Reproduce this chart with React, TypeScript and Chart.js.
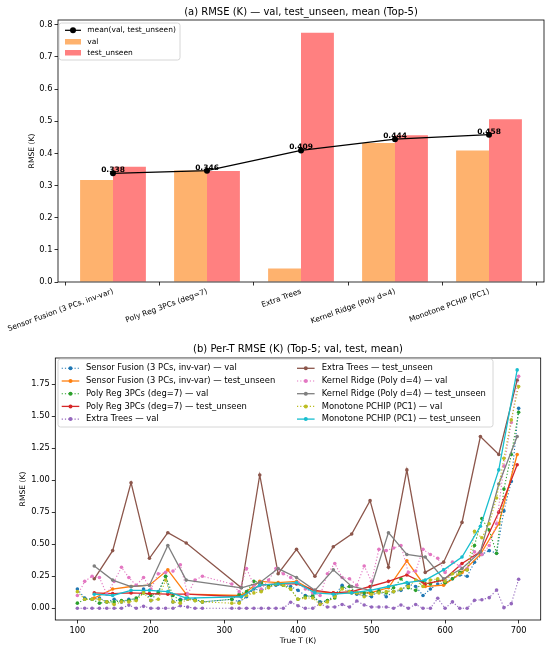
import React, { useEffect, useRef } from "react";
import { Chart, registerables } from "chart.js";

Chart.register(...registerables);

const FONT = "'DejaVu Sans', 'Liberation Sans', sans-serif";

// ---------- (a) top chart data ----------
const models = [
  "Sensor Fusion (3 PCs, inv-var)",
  "Poly Reg 3PCs (deg=7)",
  "Extra Trees",
  "Kernel Ridge (Poly d=4)",
  "Monotone PCHIP (PC1)",
];
const valRmse = [0.317, 0.347, 0.042, 0.432, 0.409];
const testRmse = [0.358, 0.345, 0.775, 0.456, 0.506];
const meanRmse = [0.338, 0.346, 0.409, 0.444, 0.458];
const topYTicks = [0, 0.1, 0.2, 0.3, 0.4, 0.5, 0.6, 0.7, 0.8];

// ---------- (b) bottom chart data ----------
const valT = [
  100, 110, 120, 130, 140, 150, 160, 170, 180, 190, 200, 210, 220, 230, 240, 250, 260, 270,
  310, 320, 330, 340, 350, 360, 370, 380, 390, 400, 410, 420, 430, 440, 450, 460, 470, 480,
  490, 500, 510, 520, 530, 540, 550, 560, 570, 580, 590, 600, 610, 620, 630, 640, 650, 660,
  670, 680, 690, 700,
];
const testT = [
  123, 148, 173, 198, 223, 248, 323, 348, 373, 398, 423, 448, 473, 498, 523, 548, 573, 598,
  623, 648, 673, 698,
];

const sfVal = [
  0.15, 0.08, 0.07, 0.08, 0.05, 0.07, 0.05, 0.07, 0.07, 0.15, 0.06, 0.13, 0.25, 0.05, 0.07, 0.07, 0.07, 0.05,
  0.07, 0.05, 0.09, 0.15, 0.14, 0.17, 0.18, 0.18, 0.17, 0.14, 0.10, 0.09, 0.05, 0.06, 0.10, 0.18, 0.13, 0.11,
  0.10, 0.09, 0.14, 0.09, 0.13, 0.14, 0.19, 0.17, 0.10, 0.15, 0.19, 0.20, 0.23, 0.26, 0.25, 0.36, 0.42, 0.45,
  0.43, 0.76, 0.99, 1.56,
];
const sfTest = [
  0.08, 0.15, 0.17, 0.18, 0.30, 0.11, 0.10, 0.21, 0.20, 0.21, 0.13, 0.12, 0.12, 0.12, 0.16, 0.37, 0.17, 0.18,
  0.28, 0.42, 0.66, 1.20,
];
const prVal = [
  0.04, 0.07, 0.07, 0.04, 0.05, 0.05, 0.06, 0.06, 0.08, 0.12, 0.10, 0.12, 0.25, 0.10, 0.06, 0.08, 0.06, 0.05,
  0.07, 0.11, 0.13, 0.21, 0.20, 0.17, 0.19, 0.18, 0.15, 0.07, 0.09, 0.10, 0.04, 0.06, 0.08, 0.16, 0.17, 0.12,
  0.12, 0.12, 0.13, 0.12, 0.16, 0.23, 0.16, 0.14, 0.21, 0.19, 0.22, 0.20, 0.23, 0.28, 0.30, 0.49, 0.70, 0.61,
  0.43, 0.93, 1.20, 1.53,
];
const prTest = [
  0.12, 0.115, 0.12, 0.115, 0.11, 0.11, 0.09, 0.18, 0.19, 0.19, 0.14, 0.12, 0.13, 0.17, 0.21, 0.26, 0.19, 0.22,
  0.35, 0.44, 0.75, 1.12,
];
const etVal = [
  0, 0, 0, 0, 0, 0, 0, 0.025, 0, 0.015, 0, 0, 0, 0, 0.02, 0.01, 0, 0,
  0, 0, 0, 0, 0, 0, 0, 0, 0.047, 0.02, 0, 0, 0.036, 0.01, 0.01, 0.03, 0.01, 0.057,
  0.026, 0.01, 0.01, 0.01, 0, 0.026, 0, 0.03, 0, 0, 0.078, 0, 0.05, 0, 0, 0.062, 0.067, 0.083,
  0.143, 0.005, 0.036, 0.227,
];
const etTest = [
  0.23, 0.45, 0.98, 0.39, 0.59, 0.51, 0.16, 1.04, 0.27, 0.46, 0.25, 0.48, 0.58, 0.84, 0.32, 1.08, 0.28, 0.36,
  0.67, 1.34, 1.20, 1.78,
];
const krVal = [
  0.10, 0.21, 0.25, 0.24, 0.11, 0.21, 0.32, 0.24, 0.18, 0.24, 0.15, 0.27, 0.28, 0.29, 0.34, 0.11, 0.22, 0.25,
  0.19, 0.13, 0.31, 0.18, 0.15, 0.22, 0.31, 0.27, 0.24, 0.20, 0.15, 0.12, 0.10, 0.27, 0.35, 0.24, 0.23, 0.18,
  0.33, 0.21, 0.46, 0.45, 0.47, 0.49, 0.28, 0.29, 0.46, 0.42, 0.39, 0.28, 0.36, 0.33, 0.31, 0.44, 0.42, 0.49,
  0.66, 1.11, 1.45, 1.81,
];
const krTest = [
  0.33, 0.22, 0.17, 0.18, 0.49, 0.22, 0.16, 0.20, 0.31, 0.24, 0.14, 0.30, 0.17, 0.14, 0.59, 0.42, 0.40, 0.23,
  0.31, 0.44, 0.97, 1.34,
];
const mpVal = [
  0.13, 0.07, 0.07, 0.07, 0.05, 0.03, 0.05, 0.05, 0.06, 0.12, 0.06, 0.07, 0.22, 0.05, 0.04, 0.07, 0.06, 0.05,
  0.04, 0.04, 0.10, 0.12, 0.13, 0.16, 0.19, 0.18, 0.15, 0.07, 0.08, 0.08, 0.03, 0.05, 0.09, 0.15, 0.13, 0.12,
  0.09, 0.11, 0.12, 0.13, 0.13, 0.15, 0.17, 0.22, 0.17, 0.22, 0.23, 0.21, 0.27, 0.27, 0.30, 0.60, 0.55, 0.66,
  0.86, 1.17, 1.47, 1.73,
];
const mpTest = [
  0.11, 0.10, 0.14, 0.14, 0.13, 0.08, 0.09, 0.18, 0.19, 0.20, 0.12, 0.11, 0.12, 0.14, 0.17, 0.20, 0.22, 0.30,
  0.40, 0.64, 1.08, 1.86,
];
const bottomXTicks = [100, 200, 300, 400, 500, 600, 700];
const bottomYTicks = [0, 0.25, 0.5, 0.75, 1.0, 1.25, 1.5, 1.75];

const COLORS = ["#1f77b4", "#ff7f0e", "#2ca02c", "#d62728", "#9467bd", "#8c564b", "#e377c2", "#7f7f7f", "#bcbd22", "#17becf"];

const seriesDefs = [
  { label: `${models[0]} — val`, T: valT, v: sfVal, dotted: true },
  { label: `${models[0]} — test_unseen`, T: testT, v: sfTest, dotted: false },
  { label: `${models[1]} — val`, T: valT, v: prVal, dotted: true },
  { label: `${models[1]} — test_unseen`, T: testT, v: prTest, dotted: false },
  { label: `${models[2]} — val`, T: valT, v: etVal, dotted: true },
  { label: `${models[2]} — test_unseen`, T: testT, v: etTest, dotted: false },
  { label: `${models[3]} — val`, T: valT, v: krVal, dotted: true },
  { label: `${models[3]} — test_unseen`, T: testT, v: krTest, dotted: false },
  { label: `${models[4]} — val`, T: valT, v: mpVal, dotted: true },
  { label: `${models[4]} — test_unseen`, T: testT, v: mpTest, dotted: false },
];

const VAL_COLOR = "#feb26e";
const TEST_COLOR = "#ff8080";
const DOT = [1.2, 2];

function legendBox(ctx: CanvasRenderingContext2D, x: number, y: number, w: number, h: number) {
  ctx.save();
  ctx.beginPath();
  const anyCtx = ctx as any;
  if (anyCtx.roundRect) anyCtx.roundRect(x, y, w, h, 2.5);
  else ctx.rect(x, y, w, h);
  ctx.fillStyle = "rgba(255,255,255,0.8)";
  ctx.fill();
  ctx.strokeStyle = "#cccccc";
  ctx.lineWidth = 0.8;
  ctx.stroke();
  ctx.restore();
}

function lineHandle(
  ctx: CanvasRenderingContext2D,
  x0: number,
  x1: number,
  y: number,
  color: string,
  dotted: boolean,
  lw: number,
  r: number
) {
  ctx.save();
  ctx.strokeStyle = color;
  ctx.lineWidth = lw;
  ctx.setLineDash(dotted ? DOT : []);
  ctx.beginPath();
  ctx.moveTo(x0, y);
  ctx.lineTo(x1, y);
  ctx.stroke();
  ctx.setLineDash([]);
  ctx.fillStyle = color;
  ctx.beginPath();
  ctx.arc((x0 + x1) / 2, y, r, 0, Math.PI * 2);
  ctx.fill();
  ctx.restore();
}

function makeOverlay(title: string, titleY: number, drawExtra: (chart: any) => void) {
  return {
    id: "overlay",
    afterDraw(chart: any) {
      const ctx: CanvasRenderingContext2D = chart.ctx;
      const a = chart.chartArea;
      ctx.save();
      ctx.strokeStyle = "#000";
      ctx.lineWidth = 0.8;
      ctx.strokeRect(a.left, a.top, a.right - a.left, a.bottom - a.top);
      ctx.fillStyle = "#000";
      ctx.font = `10px ${FONT}`;
      ctx.textAlign = "center";
      ctx.textBaseline = "middle";
      ctx.fillText(title, (a.left + a.right) / 2, titleY);
      ctx.restore();
      drawExtra(chart);
    },
  };
}

const axisCommon = (size: number, pad: number) => ({
  grid: { display: true, drawOnChartArea: false, drawTicks: true, tickLength: 3.5, color: "#000", lineWidth: 0.8 },
  border: { display: false },
  ticks: { color: "#000", font: { family: FONT, size }, padding: pad, autoSkip: false },
});

export default function App() {
  const topRef = useRef<HTMLCanvasElement | null>(null);
  const botRef = useRef<HTMLCanvasElement | null>(null);

  useEffect(() => {
    Chart.defaults.font.family = FONT;

    const topOverlay = makeOverlay("(a) RMSE (K) — val, test_unseen, mean (Top-5)", 12.3, (chart: any) => {
      const ctx: CanvasRenderingContext2D = chart.ctx;
      const xs = chart.scales.x;
      const ys = chart.scales.y;
      ctx.save();
      ctx.fillStyle = "#000";
      ctx.font = `bold 7.5px ${FONT}`;
      ctx.textAlign = "center";
      ctx.textBaseline = "alphabetic";
      meanRmse.forEach((m, i) => {
        ctx.fillText(m.toFixed(3), xs.getPixelForValue(i), ys.getPixelForValue(m) - 1);
      });
      ctx.restore();
      // legend
      legendBox(ctx, 59, 23, 121, 37);
      lineHandle(ctx, 65, 81, 30.3, "#000", false, 1.25, 3);
      ctx.save();
      ctx.fillStyle = VAL_COLOR;
      ctx.fillRect(65, 39, 16, 5.5);
      ctx.fillStyle = TEST_COLOR;
      ctx.fillRect(65, 50, 16, 5.5);
      ctx.fillStyle = "#000";
      ctx.font = `7.5px ${FONT}`;
      ctx.textAlign = "left";
      ctx.textBaseline = "middle";
      ctx.fillText("mean(val, test_unseen)", 87.3, 30.3);
      ctx.fillText("val", 87.3, 41.7);
      ctx.fillText("test_unseen", 87.3, 52.9);
      ctx.restore();
    });

    const ac1x = axisCommon(7.5, 1.5);
    const ac1y = axisCommon(8.3, 2);
    const topChart = new Chart(topRef.current as HTMLCanvasElement, {
      type: "bar",
      data: {
        datasets: [
          {
            type: "line",
            label: "mean(val, test_unseen)",
            data: meanRmse.map((v, i) => ({ x: i, y: v })),
            borderColor: "#000",
            backgroundColor: "#000",
            borderWidth: 1.25,
            pointRadius: 3,
            pointBorderWidth: 0,
            pointBackgroundColor: "#000",
            order: 0,
          } as any,
          {
            type: "bar",
            label: "val",
            data: valRmse.map((v, i) => ({ x: i, y: v })),
            backgroundColor: VAL_COLOR,
            borderWidth: 0,
            categoryPercentage: 0.7,
            barPercentage: 1.0,
            order: 1,
          } as any,
          {
            type: "bar",
            label: "test_unseen",
            data: testRmse.map((v, i) => ({ x: i, y: v })),
            backgroundColor: TEST_COLOR,
            borderWidth: 0,
            categoryPercentage: 0.7,
            barPercentage: 1.0,
            order: 1,
          } as any,
        ],
      },
      options: {
        responsive: false,
        animation: false,
        layout: { padding: { left: 0, right: 6, top: 20, bottom: 0 } },
        plugins: { legend: { display: false }, tooltip: { enabled: false }, title: { display: false } },
        scales: {
          x: {
            type: "linear",
            min: -0.585,
            max: 4.585,
            offset: false,
            ...ac1x,
            ticks: {
              ...ac1x.ticks,
              maxRotation: 20,
              minRotation: 20,
              callback: (v: any) => models[Math.round(Number(v))] ?? "",
            },
            afterBuildTicks: (s: any) => {
              s.ticks = models.map((_, i) => ({ value: i }));
            },
            afterFit: (s: any) => {
              s.height = 54;
            },
          } as any,
          y: {
            type: "linear",
            min: 0,
            max: 0.8146,
            ...ac1y,
            ticks: { ...ac1y.ticks, callback: (v: any) => Number(v).toFixed(1) },
            afterBuildTicks: (s: any) => {
              s.ticks = topYTicks.map((v) => ({ value: v }));
            },
            afterFit: (s: any) => {
              s.width = 58;
            },
            title: {
              display: true,
              text: "RMSE (K)",
              color: "#000",
              font: { family: FONT, size: 7.6 },
              padding: { top: 27.1, bottom: 0 },
            },
          } as any,
        },
      },
      plugins: [topOverlay as any],
    });

    const botOverlay = makeOverlay("(b) Per-T RMSE (K) (Top-5; val, test, mean)", 13.3, (chart: any) => {
      const ctx: CanvasRenderingContext2D = chart.ctx;
      legendBox(ctx, 58, 23, 435, 68);
      const rows = [32.3, 45.0, 57.7, 70.4, 83.1];
      ctx.save();
      seriesDefs.forEach((s, i) => {
        const col = Math.floor(i / 5);
        const row = i % 5;
        const hx0 = col === 0 ? 61.7 : 297;
        const tx = col === 0 ? 86 : 321.7;
        lineHandle(ctx, hx0, hx0 + 17.6, rows[row], COLORS[i], s.dotted, s.dotted ? 1.1 : 1.3, 2);
        ctx.fillStyle = "#000";
        ctx.font = `8.4px ${FONT}`;
        ctx.textAlign = "left";
        ctx.textBaseline = "middle";
        ctx.fillText(s.label, tx, rows[row]);
      });
      ctx.restore();
    });

    const ac2 = axisCommon(8.3, 2);
    const botChart = new Chart(botRef.current as HTMLCanvasElement, {
      type: "line",
      data: {
        datasets: seriesDefs.map((s, i) => ({
          label: s.label,
          data: s.T.map((t, j) => ({ x: t, y: s.v[j] })),
          borderColor: COLORS[i],
          backgroundColor: COLORS[i],
          borderWidth: s.dotted ? 1.1 : 1.3,
          borderDash: s.dotted ? DOT : [],
          pointRadius: 1.8,
          pointBorderWidth: 0,
          pointBackgroundColor: COLORS[i],
          tension: 0,
          fill: false,
          order: -i,
        })) as any,
      },
      options: {
        responsive: false,
        animation: false,
        layout: { padding: { left: 0, right: 9.3, top: 22, bottom: 0 } },
        plugins: { legend: { display: false }, tooltip: { enabled: false }, title: { display: false } },
        scales: {
          x: {
            type: "linear",
            min: 70,
            max: 730,
            ...ac2,
            ticks: { ...ac2.ticks, maxRotation: 0, callback: (v: any) => String(v) },
            afterBuildTicks: (s: any) => {
              s.ticks = bottomXTicks.map((v) => ({ value: v }));
            },
            afterFit: (s: any) => {
              s.height = 32;
            },
            title: {
              display: true,
              text: "True T (K)",
              color: "#000",
              font: { family: FONT, size: 7.6 },
              padding: { top: 0, bottom: 6.4 },
            },
          } as any,
          y: {
            type: "linear",
            min: -0.0914,
            max: 1.953,
            ...ac2,
            ticks: { ...ac2.ticks, callback: (v: any) => Number(v).toFixed(2) },
            afterBuildTicks: (s: any) => {
              s.ticks = bottomYTicks.map((v) => ({ value: v }));
            },
            afterFit: (s: any) => {
              s.width = 55.3;
            },
            title: {
              display: true,
              text: "RMSE (K)",
              color: "#000",
              font: { family: FONT, size: 7.6 },
              padding: { top: 18.1, bottom: 0 },
            },
          } as any,
        },
      },
      plugins: [botOverlay as any],
    });

    return () => {
      topChart.destroy();
      botChart.destroy();
    };
  }, []);

  return (
    <div style={{ position: "absolute", left: 0, top: 0, width: 550, height: 652, background: "#fff" }}>
      <canvas
        ref={topRef}
        width={550}
        height={336}
        style={{ position: "absolute", left: 0, top: 0, width: 550, height: 336 }}
      />
      <canvas
        ref={botRef}
        width={550}
        height={316}
        style={{ position: "absolute", left: 0, top: 336, width: 550, height: 316 }}
      />
    </div>
  );
}
